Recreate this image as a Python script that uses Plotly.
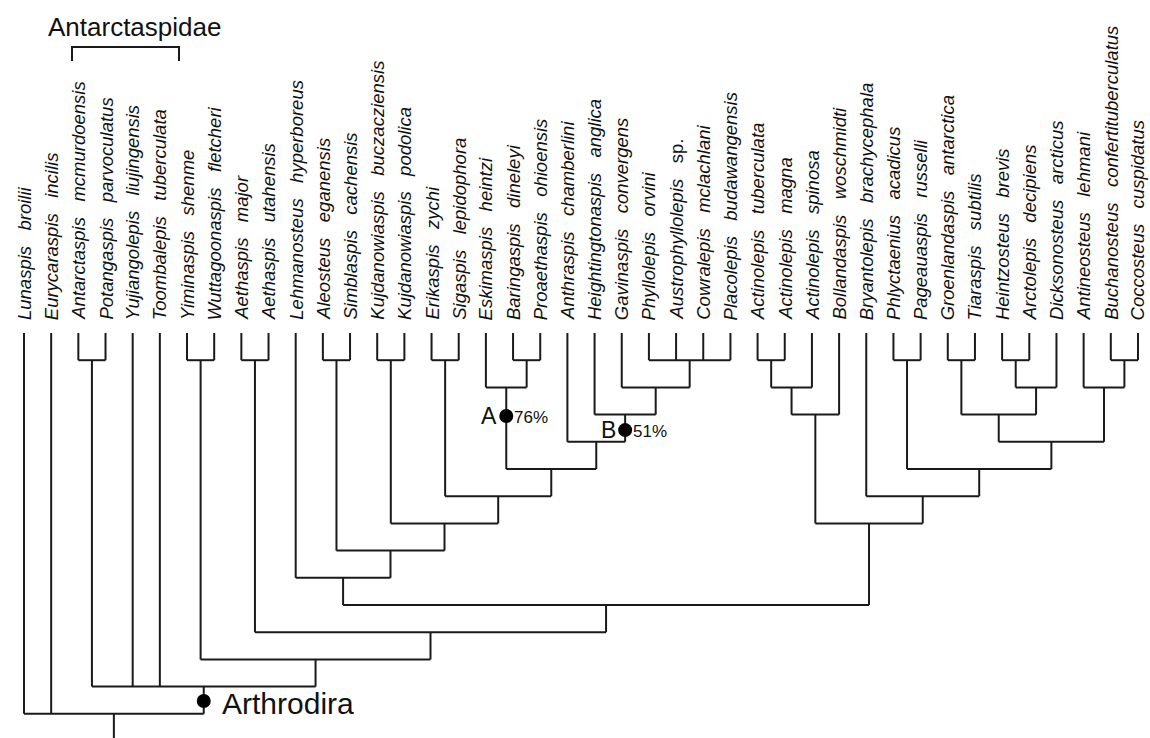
import plotly.graph_objects as go

# ---------------- data ----------------
genera = ["Lunaspis", "Eurycaraspis", "Antarctaspis", "Potangaspis", "Yujiangolepis",
          "Toombalepis", "Yiminaspis", "Wuttagoonaspis", "Aethaspis", "Aethaspis",
          "Lehmanosteus", "Aleosteus", "Simblaspis", "Kujdanowiaspis", "Kujdanowiaspis",
          "Erikaspis", "Sigaspis", "Eskimaspis", "Baringaspis", "Proaethaspis",
          "Anthraspis", "Heightingtonaspis", "Gavinaspis", "Phyllolepis", "Austrophyllolepis",
          "Cowralepis", "Placolepis", "Actinolepis", "Actinolepis", "Actinolepis",
          "Bollandaspis", "Bryantolepis", "Phlyctaenius", "Pageauaspis", "Groenlandaspis",
          "Tiaraspis", "Heintzosteus", "Arctolepis", "Dicksonosteus", "Antineosteus",
          "Buchanosteus", "Coccosteus"]
species = ["broilii", "incilis", "mcmurdoensis", "parvoculatus", "liujingensis",
           "tuberculata", "shenme", "fletcheri", "major", "utahensis",
           "hyperboreus", "eganensis", "cachensis", "buczacziensis", "podolica",
           "zychi", "lepidophora", "heintzi", "dineleyi", "ohioensis",
           "chamberlini", "anglica", "convergens", "orvini", "sp.",
           "mclachlani", "budawangensis", "tuberculata", "magna", "spinosa",
           "woschmidti", "brachycephala", "acadicus", "russelli", "antarctica",
           "subtilis", "brevis", "decipiens", "arcticus", "lehmani",
           "confertituberculatus", "cuspidatus"]
italic_species = [s != "sp." for s in species]

# clades: name -> (children, node level); tips are referred to by index
clade_names = ["c1", "c2", "c3", "c4", "c5", "c6", "c7", "A", "c9", "c10", "B", "c12",
               "c13", "c14", "c15", "c16", "c17", "c18", "c19", "c20", "c21", "c22",
               "c23", "c24", "c25", "c26", "c27", "c28", "c29", "c30", "c31", "c32",
               "c33", "c34", "Arthrodira", "root"]
clade_children = [[2, 3], [6, 7], [8, 9], [11, 12], [13, 14], [15, 16], [18, 19],
                  [17, "c7"], [23, 24, 25, 26], [22, "c9"], [21, "c10"], [20, "B"],
                  ["A", "c12"], ["c6", "c13"], ["c5", "c14"], ["c4", "c15"], [10, "c16"],
                  [27, 28], ["c18", 29], ["c19", 30], [32, 33], [34, 35],
                  [36, 37], ["c23", 38], ["c22", "c24"], [40, 41], [39, "c26"],
                  ["c25", "c27"], ["c21", "c28"], [31, "c29"], ["c20", "c30"],
                  ["c17", "c31"], ["c3", "c32"], ["c2", "c33"],
                  ["c1", 4, 5, "c34"], [0, 1, "Arthrodira"]]
clade_levels = [1, 1, 1, 1, 1, 1, 1, 2, 1, 2, 3, 4, 5, 6, 7, 8, 9, 1, 2, 3, 1, 1,
                1, 2, 3, 1, 2, 4, 5, 6, 7, 10, 11, 12, 13, 14]
root_stem_end = 15.2

support_nodes = ["A", "B"]
support_values = ["76%", "51%"]
support_levels = [3.05, 3.57]
arthrodira_dot_level = 13.53

# ---------------- layout helpers ----------------
XS = 27.17   # px per taxon
YS = 27.2    # px per level
X0, Y0 = 24, 333
W, H = 1150, 738
def lx(px):
    return (px - X0) / XS
def ly(px):
    return (px - Y0) / YS

LINE = "#1a1a1a"

# compute node x positions
pos = {}
for i in range(len(genera)):
    pos[i] = (float(i), 0.0)
for name, ch, lev in zip(clade_names, clade_children, clade_levels):
    xs = [pos[c][0] for c in ch]
    pos[name] = ((min(xs) + max(xs)) / 2, float(lev))

lx_, ly_ = [], []
for name, ch, lev in zip(clade_names, clade_children, clade_levels):
    xs = [pos[c][0] for c in ch]
    lx_ += [min(xs), max(xs), None]
    ly_ += [lev, lev, None]
    for c in ch:
        lx_ += [pos[c][0], pos[c][0], None]
        ly_ += [pos[c][1], lev, None]
# root stem
lx_ += [pos["root"][0], pos["root"][0], None]
ly_ += [pos["root"][1], root_stem_end, None]

fig = go.Figure()
fig.add_trace(go.Scatter(x=lx_, y=ly_, mode="lines",
                         line=dict(color=LINE, width=2), hoverinfo="skip",
                         showlegend=False))

# node dots
dot_x = [pos[n][0] for n in support_nodes] + [pos["Arthrodira"][0]]
dot_y = support_levels + [arthrodira_dot_level]
fig.add_trace(go.Scatter(x=dot_x, y=dot_y, mode="markers",
                         marker=dict(color="black", size=14), hoverinfo="skip",
                         showlegend=False))

FONT = "Liberation Sans, Arial, Helvetica, sans-serif"
ann = []
NB = "\u00a0"
for i, (g, s, it) in enumerate(zip(genera, species, italic_species)):
    sp = f"<i>{s}</i>" if it else s
    txt = f"<i>{g}</i>{NB}{NB}{NB}{sp}"
    ann.append(dict(x=i, y=ly(322), xref="x", yref="y", text=txt, textangle=-90,
                    showarrow=False, xanchor="center", yanchor="bottom",
                    font=dict(family=FONT, size=18.5, color="#111")))

# support labels
for n, v, lev in zip(support_nodes, support_values, support_levels):
    ann.append(dict(x=pos[n][0], y=lev, xref="x", yref="y", text=n, showarrow=False,
                    xanchor="right", yanchor="middle", xshift=-7,
                    font=dict(family=FONT, size=23, color="#111")))
    ann.append(dict(x=pos[n][0], y=lev + 0.06, xref="x", yref="y", text=v, showarrow=False,
                    xanchor="left", yanchor="middle", xshift=6,
                    font=dict(family=FONT, size=17, color="#111")))

ann.append(dict(x=pos["Arthrodira"][0], y=ly(703), xref="x", yref="y", text="Arthrodira",
                showarrow=False, xanchor="left", yanchor="middle", xshift=16,
                font=dict(family=FONT, size=30, color="#111")))
ann.append(dict(x=lx(134), y=ly(27), xref="x", yref="y", text="Antarctaspidae",
                showarrow=False, xanchor="center", yanchor="middle",
                font=dict(family=FONT, size=26, color="#111")))

shapes = [dict(type="path", xref="x", yref="y",
               path=f"M {lx(72)},{ly(61)} L {lx(72)},{ly(47)} L {lx(179)},{ly(47)} L {lx(179)},{ly(61)}",
               line=dict(color=LINE, width=2))]

fig.update_layout(
    width=W, height=H, margin=dict(l=0, r=0, t=0, b=0),
    paper_bgcolor="white", plot_bgcolor="white",
    xaxis=dict(range=[lx(0), lx(W)], visible=False, fixedrange=True),
    yaxis=dict(range=[ly(H), ly(0)], visible=False, fixedrange=True),
    annotations=ann, shapes=shapes, showlegend=False,
)
fig.write_html("out.html", config={"displayModeBar": False},
               post_script="document.body.style.margin='0px';document.body.style.overflow='hidden';")
